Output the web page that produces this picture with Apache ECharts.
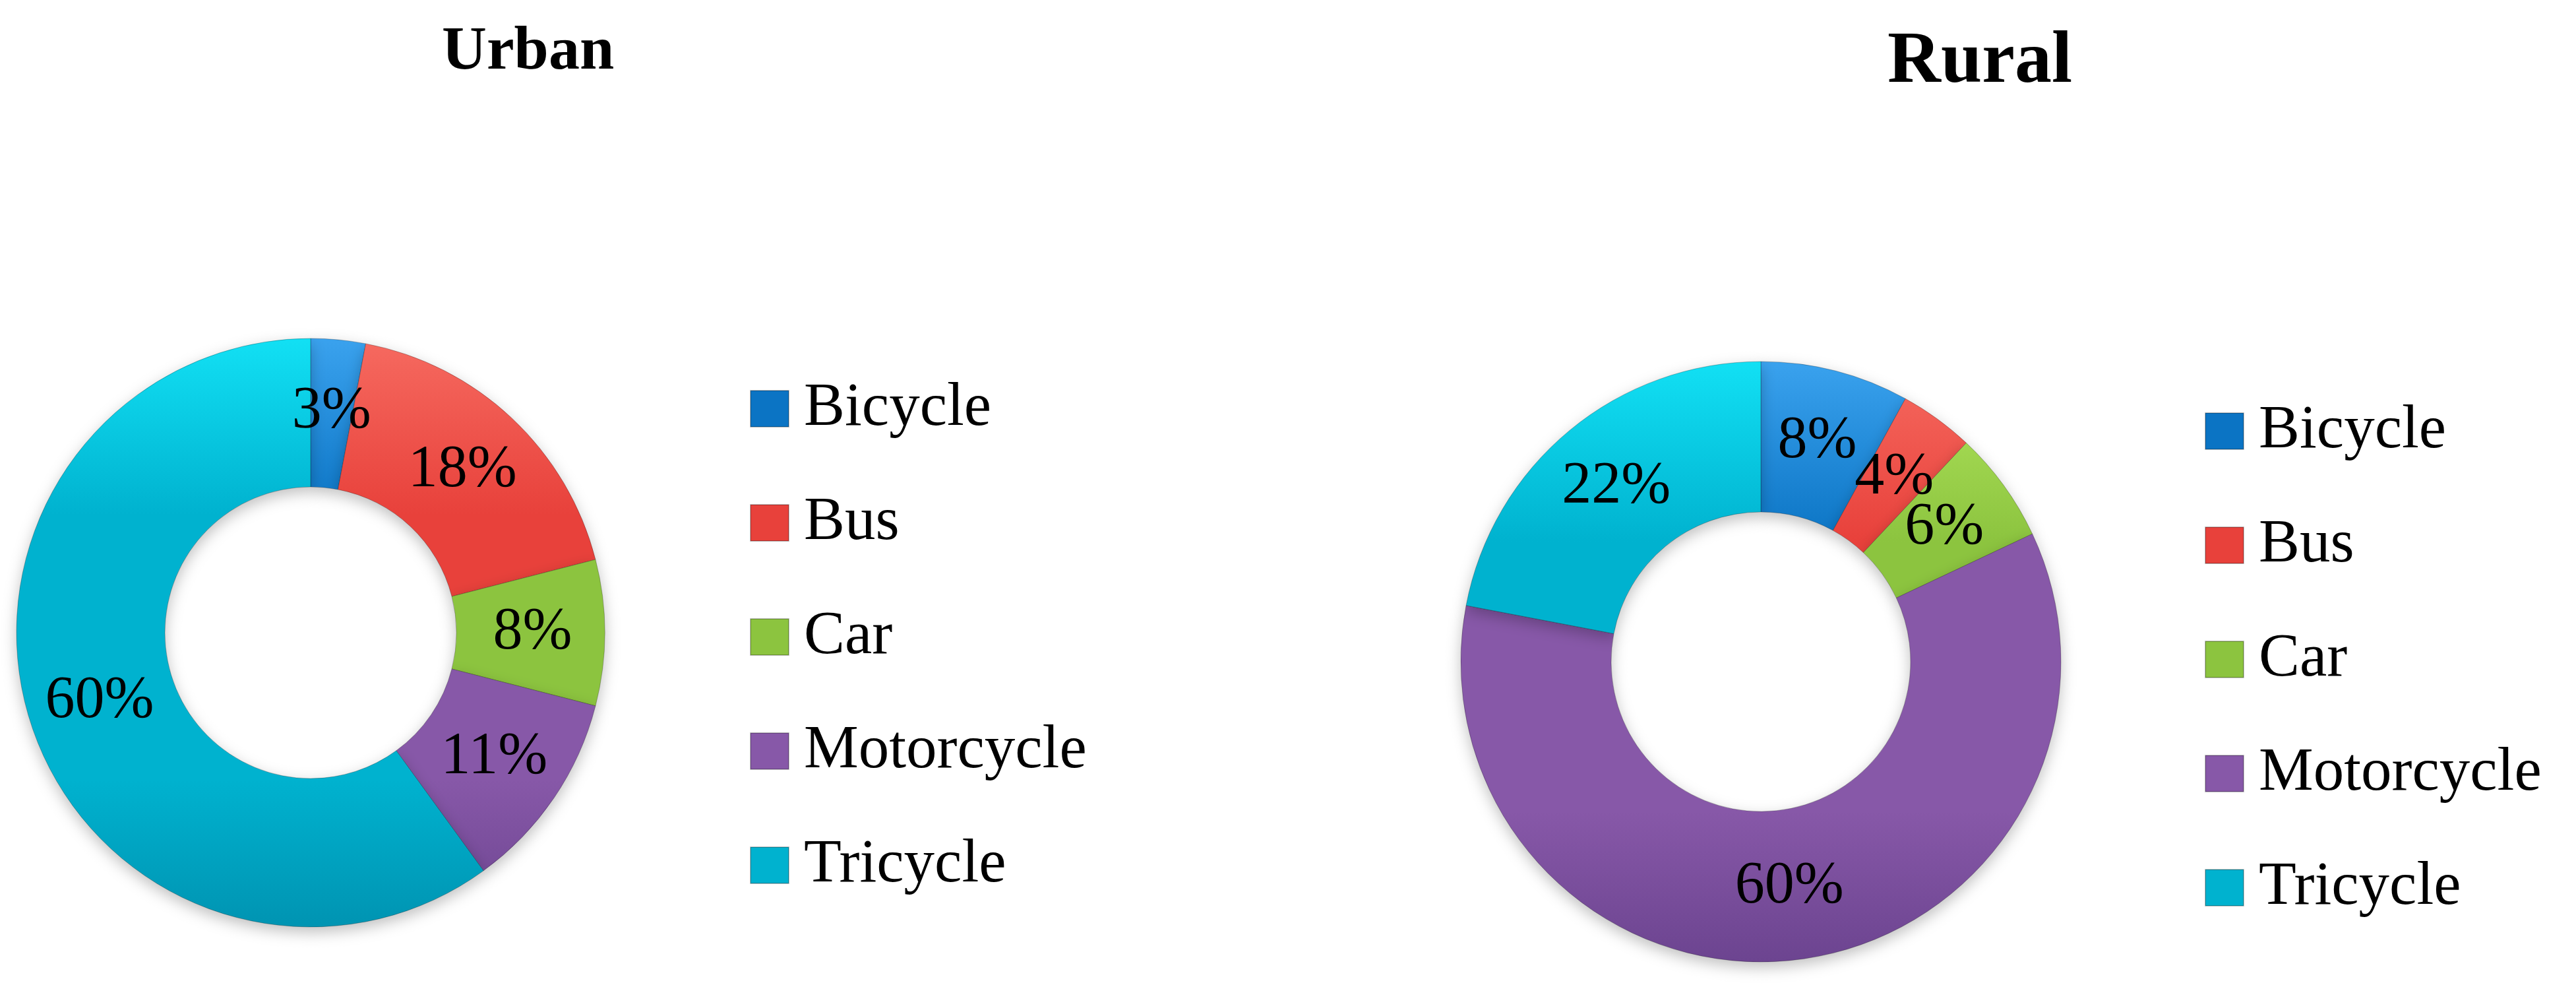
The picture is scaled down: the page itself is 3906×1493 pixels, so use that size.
<!DOCTYPE html>
<html style="height: 100%">
<head>
    <meta charset="utf-8">
</head>
<body style="height: 100%; margin: 0; background: #fff">
<div id="container" style="width: 3906px; height: 1493px"></div>
<script type="text/javascript" src="https://cdn.jsdelivr.net/npm/echarts@6/dist/echarts.min.js"></script>
<script type="text/javascript">
var modes = ['Bicycle', 'Bus', 'Car', 'Motorcycle', 'Tricycle'];
var urbanShare = [3, 18, 8, 11, 60];
var ruralShare = [8, 4, 6, 60, 22];

var baseColors  = ['#0b74c4', '#e8413b', '#8cc43f', '#8758a8', '#00b2cf'];
var lightColors = ['#3aa2ee', '#f66a60', '#b2e65e', '#a47ccc', '#12e0f4'];
var darkColors  = ['#085c9e', '#c4302b', '#6c9a2c', '#6c4490', '#0094b2'];

var serif = 'Liberation Serif, Times New Roman, serif';

// vertical light-to-dark shading across the whole ring (pixel coords)
function shade(i, cy, r) {
    return {
        type: 'linear', x: 0, y: cy - r, x2: 0, y2: cy + r, global: true,
        colorStops: [
            {offset: 0, color: lightColors[i]},
            {offset: 0.3, color: baseColors[i]},
            {offset: 0.75, color: baseColors[i]},
            {offset: 1, color: darkColors[i]}
        ]
    };
}

function ringData(values, cy, r) {
    return modes.map(function (name, i) {
        return {name: name, value: values[i], itemStyle: {color: shade(i, cy, r)}};
    });
}

function legendData() {
    return modes.map(function (name, i) {
        return {name: name, itemStyle: {color: baseColors[i]}};
    });
}

function ring(values, cx, cy, r0, r) {
    return {
        type: 'pie',
        center: [cx, cy],
        radius: [r0, r],
        startAngle: 90,
        clockwise: true,
        avoidLabelOverlap: false,
        data: ringData(values, cy, r),
        itemStyle: {
            borderColor: 'rgba(0,0,0,0.25)',
            borderWidth: 1,
            shadowBlur: 22,
            shadowOffsetY: 8,
            shadowColor: 'rgba(0,0,0,0.25)'
        },
        label: {
            show: true,
            position: 'inside',
            formatter: '{c}%',
            fontSize: 90,
            fontFamily: serif,
            color: '#000',
            textBorderWidth: 0
        },
        labelLayout: {hideOverlap: false},
        labelLine: {show: false},
        emphasis: {disabled: true}
    };
}

function legendBox(left, top) {
    return {
        orient: 'vertical',
        left: left,
        top: top,
        padding: 0,
        icon: 'rect',
        itemWidth: 58,
        itemHeight: 55,
        itemGap: 80,
        selectedMode: false,
        data: legendData(),
        textStyle: {
            fontSize: 93,
            lineHeight: 93,
            fontFamily: serif,
            color: '#000',
            padding: [0, 0, 0, 18]
        }
    };
}

var dom = document.getElementById('container');
var myChart = echarts.init(dom);

var option = {
    backgroundColor: '#fff',
    animation: false,
    title: [
        {text: 'Urban', left: 670, top: 33, padding: 0,
         textStyle: {fontSize: 94, fontWeight: 'bold', fontFamily: serif, color: '#000'}},
        {text: 'Rural', left: 2862, top: 39, padding: 0,
         textStyle: {fontSize: 112, fontWeight: 'bold', fontFamily: serif, color: '#000'}}
    ],
    legend: [legendBox(1137, 573), legendBox(3343, 607)],
    series: [
        ring(urbanShare, 471, 959, 221, 446),
        ring(ruralShare, 2670, 1003, 227, 455)
    ]
};

myChart.setOption(option);
</script>
</body>
</html>
